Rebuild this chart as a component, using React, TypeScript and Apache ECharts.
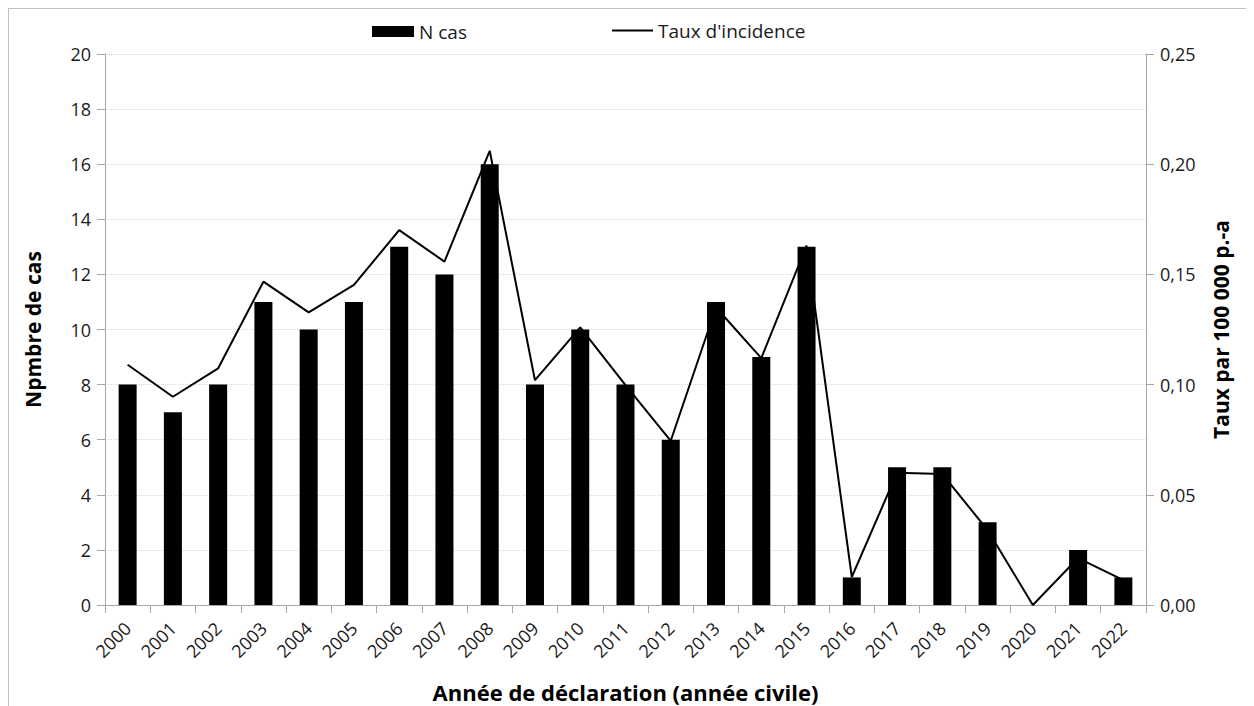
import React, { useEffect, useRef } from "react";
import * as echarts from "echarts";

const years = ["2000","2001","2002","2003","2004","2005","2006","2007","2008","2009","2010","2011","2012","2013","2014","2015","2016","2017","2018","2019","2020","2021","2022"];
const nCas = [8,7,8,11,10,11,13,12,16,8,10,8,6,11,9,13,1,5,5,3,0,2,1];
const taux = [0.109,0.0945,0.1074,0.1467,0.1328,0.1452,0.1701,0.1558,0.2061,0.102,0.126,0.0998,0.0745,0.135,0.112,0.163,0.0127,0.060,0.0594,0.034,0,0.0213,0.0113];

const FONT = "'Open Sans', 'Noto Sans', sans-serif";
const TXT = "#1a1a1a";
const AXIS = "#a6a6a6";

export default function App() {
  const ref = useRef<HTMLDivElement>(null);
  useEffect(() => {
    if (!ref.current) return;
    const chart = echarts.init(ref.current, null, { renderer: "svg" });
    chart.setOption({
      animation: false,
      textStyle: { fontFamily: FONT, color: TXT },
      legend: [
        {
          data: [{ name: "N cas", icon: "rect" }],
          left: 358, top: 8, itemWidth: 42, itemHeight: 11, itemGap: 0,
          textStyle: { fontFamily: FONT, fontSize: 19, color: TXT },
        },
        {
          data: [{ name: "Taux d'incidence", icon: "rect" }],
          left: 598, top: 7, itemWidth: 41, itemHeight: 2,
          textStyle: { fontFamily: FONT, fontSize: 19, color: TXT },
        },
      ],
      grid: { left: 96, top: 45, width: 1041, height: 551, containLabel: false },
      xAxis: {
        type: "category",
        data: years,
        name: "Année de déclaration (année civile)",
        nameLocation: "middle",
        nameGap: 76,
        nameTextStyle: { fontFamily: FONT, fontSize: 22, fontWeight: "bold", color: "#000" },
        axisLine: { lineStyle: { color: AXIS } },
        axisTick: { show: true, length: 8, alignWithLabel: false, lineStyle: { color: AXIS } },
        axisLabel: { rotate: 45, fontSize: 18, color: TXT, margin: 20, interval: 0, fontFamily: FONT },
      },
      yAxis: [
        {
          type: "value", min: 0, max: 20, interval: 2,
          name: "Npmbre de cas",
          nameLocation: "middle",
          nameGap: 62,
          nameTextStyle: { fontFamily: FONT, fontSize: 21, fontWeight: "bold", color: "#000" },
          axisLine: { show: true, lineStyle: { color: AXIS } },
          axisTick: { show: true, length: 8, lineStyle: { color: AXIS } },
          axisLabel: { fontSize: 18, color: TXT, margin: 14, fontFamily: FONT },
          splitLine: { show: true, lineStyle: { color: "#d9d9d9", type: "dotted" } },
        },
        {
          type: "value", min: 0, max: 0.25, interval: 0.05,
          name: "Taux par 100 000 p.-a",
          nameLocation: "middle",
          nameGap: 64,
          nameRotate: 90,
          nameTextStyle: { fontFamily: FONT, fontSize: 21, fontWeight: "bold", color: "#000" },
          axisLine: { show: true, lineStyle: { color: AXIS } },
          axisTick: { show: true, length: 8, lineStyle: { color: AXIS } },
          axisLabel: {
            fontSize: 18, color: TXT, margin: 14, fontFamily: FONT,
            formatter: (v: number) => v.toFixed(2).replace(".", ","),
          },
          splitLine: { show: false },
        },
      ],
      series: [
        {
          name: "N cas",
          type: "bar",
          data: nCas,
          barWidth: 18,
          itemStyle: { color: "#000" },
          yAxisIndex: 0,
        },
        {
          name: "Taux d'incidence",
          type: "line",
          data: taux,
          yAxisIndex: 1,
          symbol: "none",
          lineStyle: { color: "#000", width: 2 },
          itemStyle: { color: "#000" },
        },
      ],
    });
    return () => chart.dispose();
  }, []);
  return (
    <div style={{ width: 1246, height: 710, boxSizing: "border-box", borderLeft: "1px solid #bfbfbf", borderTop: "1px solid #bfbfbf", overflow: "hidden" }}>
      <div ref={ref} style={{ width: 1245, height: 709 }} />
    </div>
  );
}
